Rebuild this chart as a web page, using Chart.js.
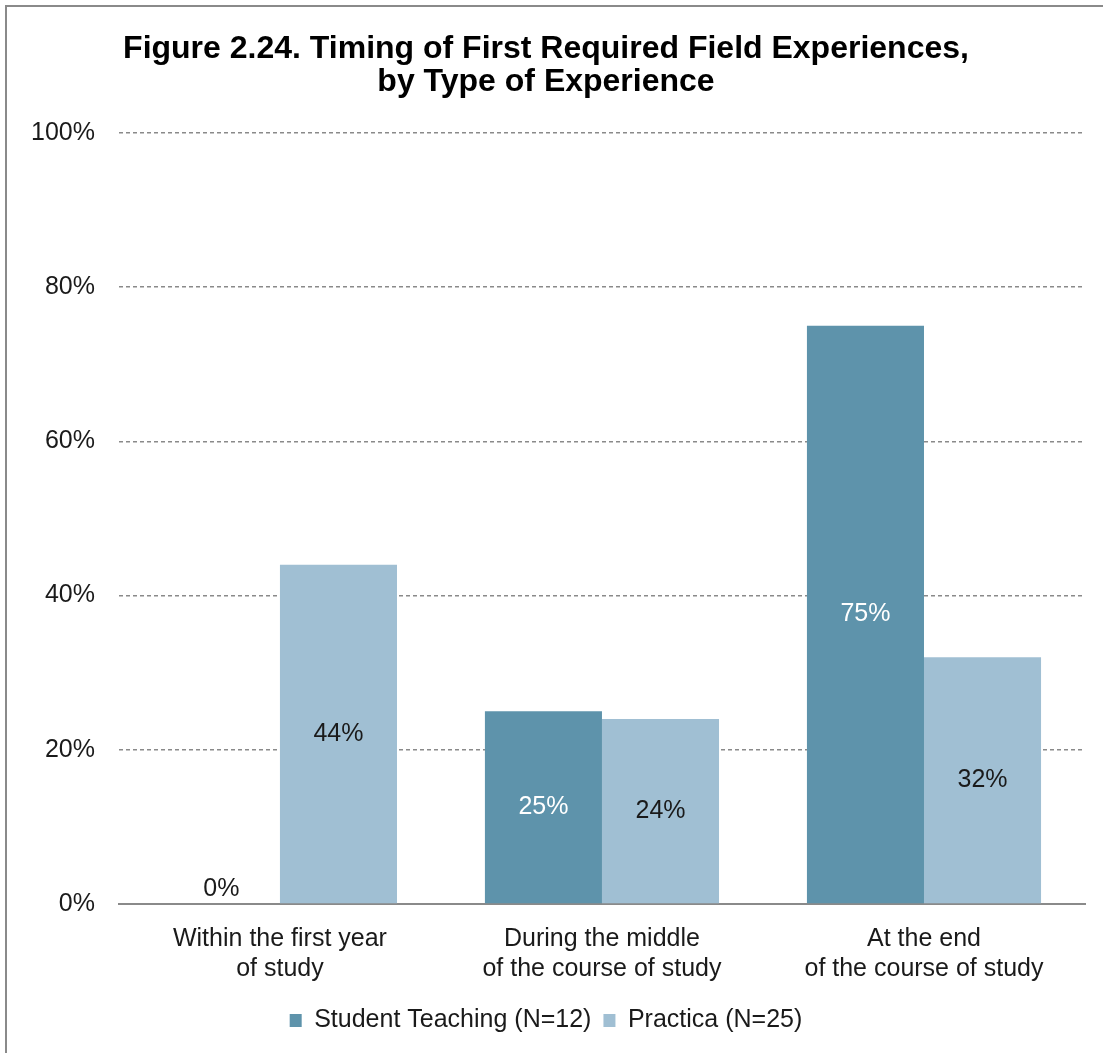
<!DOCTYPE html>
<html>
<head>
<meta charset="utf-8">
<script src="https://cdn.jsdelivr.net/npm/chart.js@4.4.1/dist/chart.umd.min.js"></script>
<style>
  html, body { margin: 0; padding: 0; background: #fff; }
  #wrap { width: 1103px; height: 1053px; position: relative; }
</style>
</head>
<body>
<div id="wrap"><canvas id="chart" width="1103" height="1053"></canvas></div>
<script>
const categories = [
  ["Within the first year", "of study"],
  ["During the middle", "of the course of study"],
  ["At the end", "of the course of study"]
];
const studentTeaching = [0, 25, 75];
const practica = [44, 24, 32];
const yTicks = [0, 20, 40, 60, 80, 100];

const FONT = "'Liberation Sans', Arial, sans-serif";

// draws the value in the middle of each bar, like the Excel labels
const barLabels = {
  id: "barLabels",
  afterDatasetsDraw(chart) {
    const ctx = chart.ctx;
    ctx.save();
    ctx.font = "25px " + FONT;
    ctx.textAlign = "center";
    ctx.textBaseline = "middle";
    chart.data.datasets.forEach((ds, i) => {
      const meta = chart.getDatasetMeta(i);
      meta.data.forEach((bar, j) => {
        const v = ds.data[j];
        let y = (bar.y + bar.base) / 2;
        let color = i === 0 ? "#ffffff" : "#1a1a1a";
        if (v === 0) {
          y = bar.base - 15;
          color = "#1a1a1a";
        }
        ctx.fillStyle = color;
        ctx.fillText(v + "%", bar.x, y);
      });
    });
    ctx.restore();
  }
};

// frame at left and top edge of the picture
const frame = {
  id: "frame",
  beforeDraw(chart) {
    const ctx = chart.ctx;
    ctx.save();
    ctx.strokeStyle = "#8a8a8a";
    ctx.lineWidth = 2;
    ctx.beginPath();
    ctx.moveTo(6, 1053);
    ctx.lineTo(6, 6);
    ctx.lineTo(1103, 6);
    ctx.stroke();
    ctx.restore();
  }
};

new Chart(document.getElementById("chart"), {
  type: "bar",
  data: {
    labels: categories,
    datasets: [
      {
        label: "Student Teaching (N=12)",
        data: studentTeaching,
        backgroundColor: "#5e93ab",
        categoryPercentage: 0.727,
        barPercentage: 1.0
      },
      {
        label: "Practica (N=25)",
        data: practica,
        backgroundColor: "#a0bfd3",
        categoryPercentage: 0.727,
        barPercentage: 1.0
      }
    ]
  },
  options: {
    responsive: false,
    animation: false,
    layout: { padding: { left: 7, right: 18, top: 33, bottom: 10 } },
    plugins: {
      title: {
        display: true,
        text: ["Figure 2.24. Timing of First Required Field Experiences,", "by Type of Experience"],
        color: "#000",
        font: { family: FONT, size: 32, weight: "bold", lineHeight: 1.03 },
        padding: { top: 0, bottom: 34 }
      },
      legend: {
        position: "bottom",
        labels: {
          color: "#1a1a1a",
          font: { family: FONT, size: 25 },
          boxWidth: 12,
          boxHeight: 13,
          padding: 12
        }
      },
      tooltip: { enabled: false }
    },
    scales: {
      x: {
        grid: { display: false },
        border: { color: "#8a8a8a", width: 2 },
        ticks: {
          color: "#1a1a1a",
          font: { family: FONT, size: 25, lineHeight: 1.2 },
          maxRotation: 0,
          padding: 12
        }
      },
      y: {
        min: 0,
        max: 100,
        afterBuildTicks(axis) {
          axis.ticks = yTicks.map(v => ({ value: v }));
        },
        grid: {
          color: ctx => ctx.tick && ctx.tick.value === 0 ? "rgba(0,0,0,0)" : "#8a8a8a",
          lineWidth: 1.5,
          drawTicks: false
        },
        border: { display: false, dash: [4, 3] },
        ticks: {
          color: "#1a1a1a",
          font: { family: FONT, size: 25 },
          padding: 24,
          callback: v => v + "%"
        }
      }
    }
  },
  plugins: [barLabels, frame]
});
</script>
</body>
</html>
